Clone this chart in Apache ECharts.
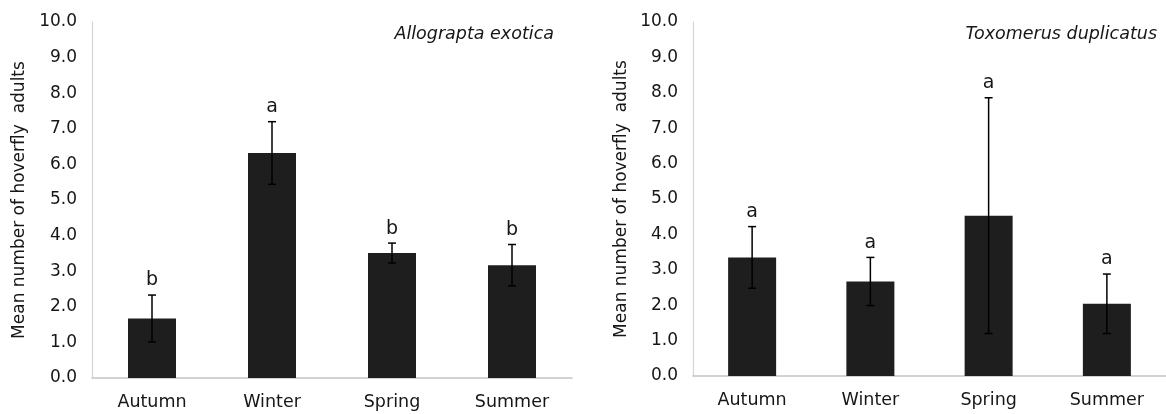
<!DOCTYPE html>
<html>
<head>
  <meta charset="utf-8">
  <title>hoverfly seasons</title>
  <script src="https://cdn.jsdelivr.net/npm/echarts@6/dist/echarts.min.js"></script>
  <style>
    html, body { margin: 0; padding: 0; background: #fff; }
  </style>
</head>
<body>
  <div id="main" style="width:1166px;height:414px;"></div>
  <script type="text/javascript">
    // seasons on the x axis
    var seasons = ['Autumn', 'Winter', 'Spring', 'Summer'];

    // Allograpta exotica (left panel)
    var meanAllo = [1.67, 6.32, 3.51, 3.17];
    var errAllo = [0.66, 0.88, 0.28, 0.58];
    var lettersAllo = ['b', 'a', 'b', 'b'];

    // Toxomerus duplicatus (right panel)
    var meanToxo = [3.35, 2.67, 4.53, 2.04];
    var errToxo = [0.87, 0.68, 3.33, 0.84];
    var lettersToxo = ['a', 'a', 'a', 'a'];

    var FONT = 'DejaVu Sans';
    var TXT = '#161616';

    var myChart = echarts.init(document.getElementById('main'));

    function errItem(letters) {
      return function (params, api) {
        var i = api.value(0);
        var m = api.value(1);
        var e = api.value(2);
        var hi = api.coord([i, m + e]);
        var lo = api.coord([i, m - e]);
        var cap = 4;
        var st = { stroke: '#000', lineWidth: 1.5 };
        return {
          type: 'group',
          children: [
            { type: 'line', shape: { x1: hi[0], y1: hi[1], x2: lo[0], y2: lo[1] }, style: st },
            { type: 'line', shape: { x1: hi[0] - cap, y1: hi[1], x2: hi[0] + cap, y2: hi[1] }, style: st },
            { type: 'line', shape: { x1: lo[0] - cap, y1: lo[1], x2: lo[0] + cap, y2: lo[1] }, style: st },
            { type: 'text', x: hi[0], y: hi[1] - 5,
              style: { text: letters[i], fill: TXT, font: '19px "' + FONT + '"', align: 'center', verticalAlign: 'bottom' } }
          ]
        };
      };
    }

    function xAx(idx) {
      return {
        type: 'category', gridIndex: idx, data: seasons,
        axisLine: { lineStyle: { color: '#c4c4c4', width: 1.5 } },
        axisTick: { show: false },
        axisLabel: { color: TXT, fontFamily: FONT, fontSize: 17.5, margin: 15 }
      };
    }

    function yAx(idx, gap) {
      return {
        type: 'value', gridIndex: idx, min: 0, max: 10, interval: 1,
        name: 'Mean number of hoverfly  adults',
        nameLocation: 'middle', nameGap: gap, nameRotate: 90,
        nameTextStyle: { color: TXT, fontFamily: FONT, fontSize: 17 },
        axisLine: { show: true, lineStyle: { color: '#d4d4d4', width: 1.2 } },
        axisTick: { show: false },
        splitLine: { show: false },
        axisLabel: {
          color: TXT, fontFamily: FONT, fontSize: 17, margin: 15,
          formatter: function (v) { return v.toFixed(1); }
        }
      };
    }

    function pairs(means, errs) {
      return means.map(function (m, i) { return [i, m, errs[i]]; });
    }

    var option = {
      animation: false,
      title: [
        { text: 'Allograpta exotica', right: 612, top: 25, padding: 0,
          textStyle: { fontFamily: FONT, fontStyle: 'italic', fontWeight: 'normal', fontSize: 17.5, color: TXT } },
        { text: 'Toxomerus duplicatus', right: 9, top: 25, padding: 0,
          textStyle: { fontFamily: FONT, fontStyle: 'italic', fontWeight: 'normal', fontSize: 17.5, color: TXT } }
      ],
      grid: [
        { left: 92, top: 22, width: 480, height: 356 },
        { left: 693, top: 22, width: 480, height: 354 }
      ],
      xAxis: [xAx(0), xAx(1)],
      yAxis: [yAx(0, 64), yAx(1, 63)],
      series: [
        { type: 'bar', xAxisIndex: 0, yAxisIndex: 0, data: meanAllo, barWidth: 48,
          itemStyle: { color: '#1e1e1e' } },
        { type: 'custom', xAxisIndex: 0, yAxisIndex: 0, renderItem: errItem(lettersAllo),
          data: pairs(meanAllo, errAllo), z: 5 },
        { type: 'bar', xAxisIndex: 1, yAxisIndex: 1, data: meanToxo, barWidth: 48,
          itemStyle: { color: '#1e1e1e' } },
        { type: 'custom', xAxisIndex: 1, yAxisIndex: 1, renderItem: errItem(lettersToxo),
          data: pairs(meanToxo, errToxo), z: 5 }
      ]
    };

    myChart.setOption(option);
  </script>
</body>
</html>
